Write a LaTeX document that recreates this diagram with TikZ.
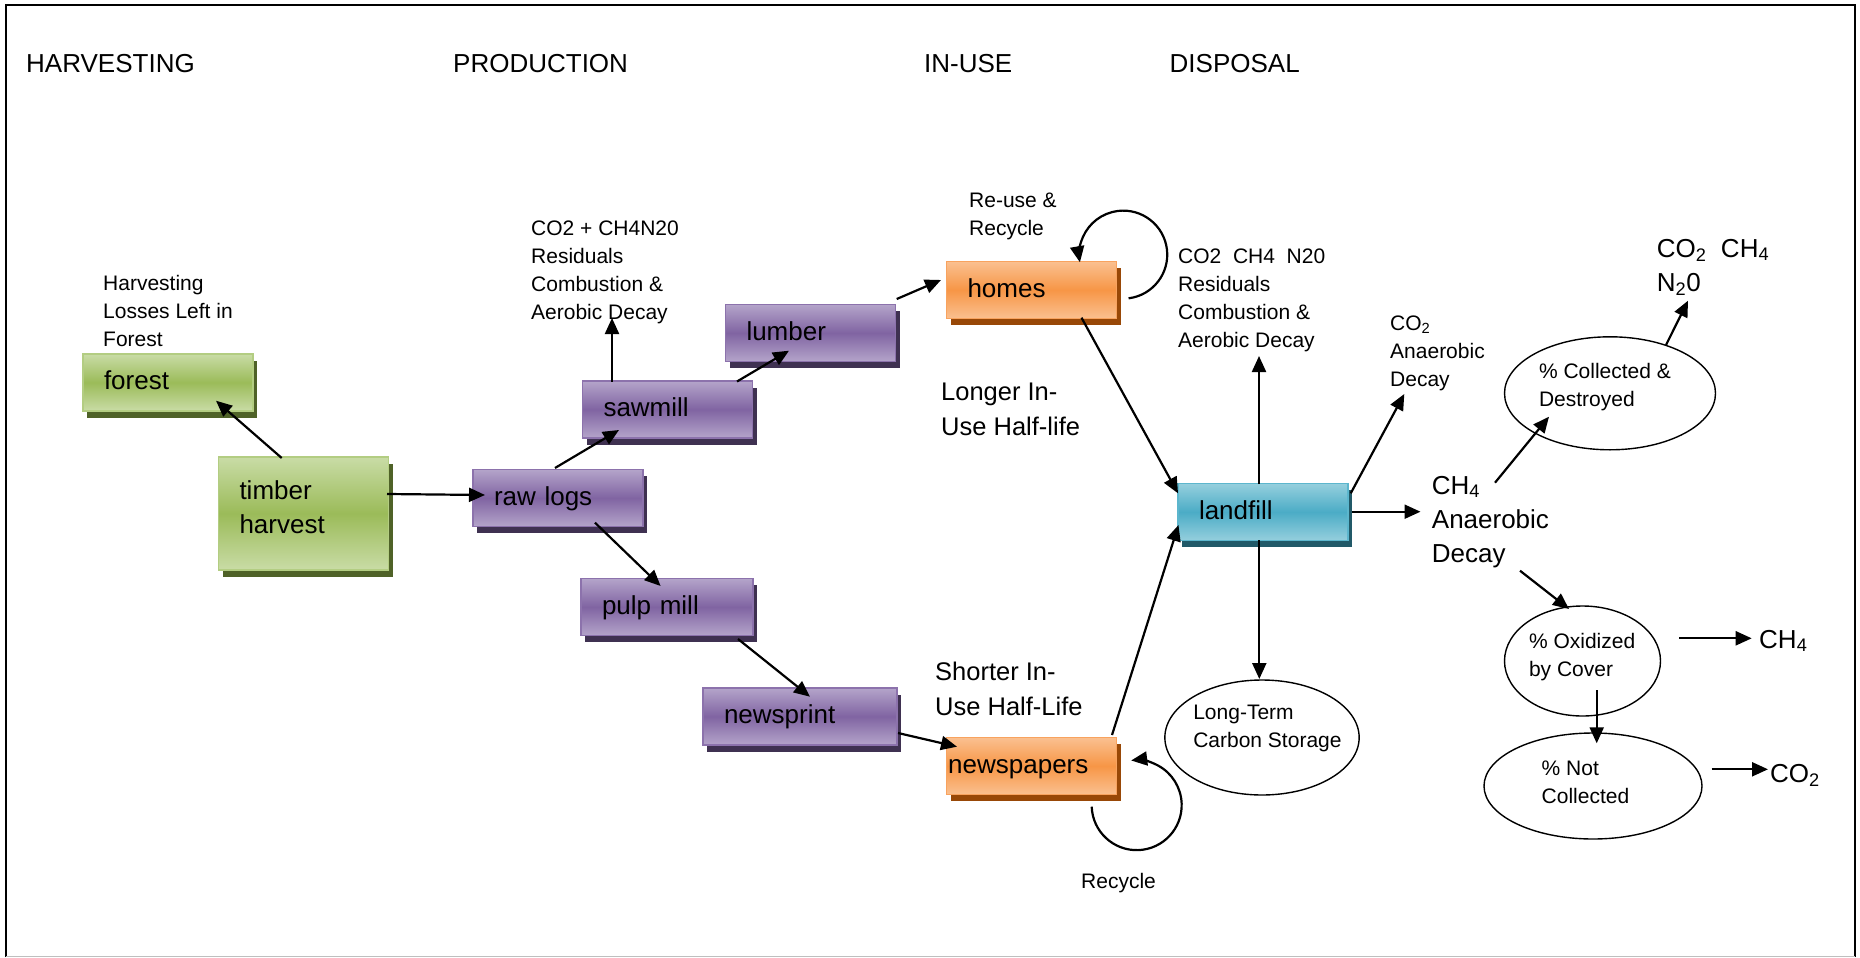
\documentclass[tikz,border=0pt]{standalone}
\usepackage{fontspec}
\setmainfont{Liberation Sans}
\usetikzlibrary{calc,shapes.geometric,shadows,arrows.meta}
\definecolor{gmid}{HTML}{9BBB59}
\definecolor{glight}{HTML}{C9DCA6}
\definecolor{gborder}{HTML}{B3CD82}
\definecolor{gdark}{HTML}{4F6228}
\definecolor{pmid}{HTML}{8064A2}
\definecolor{plight}{HTML}{B4A4CA}
\definecolor{pborder}{HTML}{8C72AC}
\definecolor{pdark}{HTML}{3F3151}
\definecolor{omid}{HTML}{F79646}
\definecolor{olight}{HTML}{FAC090}
\definecolor{oborder}{HTML}{F8A35F}
\definecolor{odark}{HTML}{984807}
\definecolor{bmid}{HTML}{4BACC6}
\definecolor{blight}{HTML}{95CFDD}
\definecolor{bborder}{HTML}{5CB6CD}
\definecolor{bdark}{HTML}{215968}
\newcommand\mysmall{\fontsize{21}{28}\selectfont}
\newcommand\mybig{\fontsize{26}{34}\selectfont}
\newcommand\mymid{\fontsize{25.5}{35}\selectfont}
\newcommand\txtlines[1]{\begin{tabular}[t]{@{}l@{}}#1\end{tabular}}
\tikzset{
  box/.style={rectangle, minimum width=170pt, minimum height=57pt, inner xsep=21pt, inner ysep=0pt,
    text width=128pt, align=left, text height=18pt, text depth=4pt, line width=1.5pt, font=\mybig},
  greenbox/.style={box, draw=gborder, top color=glight, bottom color=glight, middle color=gmid,
    drop shadow={shadow xshift=4pt, shadow yshift=-6.5pt, fill=gdark, opacity=1}},
  purplebox/.style={box, draw=pborder, top color=plight, bottom color=plight, middle color=pmid,
    drop shadow={shadow xshift=4pt, shadow yshift=-6.5pt, fill=pdark, opacity=1}},
  orangebox/.style={box, draw=oborder, top color=olight, bottom color=olight, middle color=omid,
    drop shadow={shadow xshift=4pt, shadow yshift=-6.5pt, fill=odark, opacity=1}},
  bluebox/.style={box, draw=bborder, top color=blight, bottom color=blight, middle color=bmid,
    drop shadow={shadow xshift=4pt, shadow yshift=-6.5pt, fill=bdark, opacity=1}},
  oval/.style={ellipse, draw, line width=1.4pt, inner sep=0pt, font=\mysmall, text depth=0pt},
  lbl/.style={anchor=base west, inner sep=0pt},
  flow/.style={line width=2.2pt, -{Triangle[length=16pt,width=14pt]}},
}
\begin{document}
\begin{tikzpicture}[x=1pt,y=-1pt]
\useasboundingbox (0,0) rectangle (1860,958);
% frame
\draw[line width=2.2pt] (6,957) -- (6,5) -- (1855,5) -- (1855,957);
\draw[line width=1pt, black!25] (6,956.5) -- (1855,956.5);

% headings
\node[lbl, font=\mybig] (hdrharv) at (26,73) {HARVESTING};
\node[lbl, font=\mybig] (hdrprod) at (453,73) {PRODUCTION};
\node[lbl, font=\mybig] (hdruse) at (924,73) {IN-USE};
\node[lbl, font=\mybig] (hdrdisp) at (1169.5,73) {DISPOSAL};

% boxes
\node[greenbox] (forest) at (168,382.5) {forest};
\node[greenbox, minimum height=113pt, text height=45pt, text depth=6pt] (timber) at (303.5,513.5)
  {\parbox[b]{128pt}{timber\\harvest}};
\node[purplebox] (rawlogs) at (558,498) {raw logs};
\node[purplebox] (sawmill) at (667.5,409.5) {sawmill};
\node[purplebox] (lumber) at (810.5,333) {lumber};
\node[purplebox, minimum width=172pt, text width=130pt] (pulpmill) at (667,607) {pulp mill};
\node[purplebox, minimum width=194pt, text width=152pt] (newsprint) at (800,716.5) {newsprint};
\node[orangebox] (homes) at (1031.5,290) {homes};
\node[orangebox, inner xsep=1.5pt, text width=167pt] (newspapers) at (1031.7,766) {newspapers};
\node[bluebox] (landfill) at (1263,512) {landfill};

% ellipses
\node[oval, minimum width=211pt, minimum height=113pt, text height=26.8pt] (collected) at (1610,393.3)
  {\parbox[b]{142pt}{\raggedright\mbox{\% Collected \&}\\Destroyed}};
\node[oval, minimum width=156pt, minimum height=110pt, text height=31.4pt] (oxidized) at (1582.5,661)
  {\parbox[b]{107pt}{\raggedright\mbox{\% Oxidized}\\\mbox{by Cover}}};
\node[oval, minimum width=218pt, minimum height=106pt, text height=34.6pt] (notcoll) at (1593,786)
  {\parbox[b]{102.6pt}{\raggedright\mbox{\% Not}\\Collected}};
\node[oval, minimum width=193pt, minimum height=115pt, text height=19.6pt] (longterm) at (1262,737.5)
  {\parbox[b]{137.4pt}{\raggedright\mbox{Long-Term}\\\mbox{Carbon Storage}}};

% labels
\node[lbl, font=\mysmall] (losses) at (103,290.7) {\txtlines{Harvesting\\Losses Left in\\Forest}};
\node[lbl, font=\mysmall] (sawemis) at (531,235) {\txtlines{CO2 + CH4N20\\Residuals\\Combustion \&\\Aerobic Decay}};
\node[lbl, font=\mysmall] (reuse) at (969,207.7) {\txtlines{Re-use \&\\Recycle}};
\node[lbl, font=\mysmall] (landemis) at (1178,263.3) {\txtlines{CO2~~CH4~~N20\\Residuals\\Combustion \&\\Aerobic Decay}};
\node[lbl, font=\mysmall] (co2an) at (1390,330) {\txtlines{CO\textsubscript{2}\\Anaerobic\\Decay}};
\node[lbl, font=\mysmall] (recycle) at (1081,888) {Recycle};
\node[lbl, font=\mymid] (longer) at (941,400) {\txtlines{Longer In-\\Use Half-life}};
\node[lbl, font=\mymid] (shorter) at (935,680) {\txtlines{Shorter In-\\Use Half-Life}};
\node[lbl, font=\mybig] (ch4an) at (1431.7,494) {\txtlines{CH\textsubscript{4}\\Anaerobic\\Decay}};
\node[lbl, font=\mybig] (co2top) at (1656.7,257) {\txtlines{CO\textsubscript{2}~~CH\textsubscript{4}\\N\textsubscript{2}0}};
\node[lbl, font=\mybig] (ch4r) at (1759,648) {CH\textsubscript{4}};
\node[lbl, font=\mybig] (co2r) at (1770,782.7) {CO\textsubscript{2}};

% connectors
\draw[flow] ($(timber.center)+(-21.8,-55.5)$) -- ($(forest.center)+(48,18.2)$);
\draw[flow] ($(timber.center)+(83.5,-19.5)$) -- ($(rawlogs.center)+(-73,-3)$);
\draw[flow] ($(rawlogs.center)+(-3,-30)$) -- ($(sawmill.center)+(-48.5,20.5)$);
\draw[flow] ($(sawmill.center)+(-55.5,-28)$) -- ($(sawemis.base west)+(81,83)$);
\draw[flow] ($(sawmill.center)+(69.5,-28)$) -- ($(lumber.center)+(-21.5,17.7)$);
\draw[flow] ($(lumber.center)+(86.2,-34)$) -- ($(homes.center)+(-90.5,-10)$);
\draw[flow] ($(rawlogs.center)+(37,24.7)$) -- ($(pulpmill.center)+(-6.4,-21)$);
\draw[flow] ($(pulpmill.center)+(71,32)$) -- ($(newsprint.center)+(10,-19.8)$);
\draw[flow] ($(newsprint.center)+(98,16.5)$) -- ($(newspapers.center)+(-74.7,-19.3)$);
\draw[flow] ($(homes.center)+(50,27.7)$) -- ($(landfill.center)+(-85,-18.7)$);
\draw[flow] ($(newspapers.center)+(80.3,-31)$) -- ($(landfill.center)+(-84.5,13)$);
\draw[flow] ($(landfill.center)+(-4,-28)$) -- ($(landemis.base west)+(81,92.7)$);
\draw[flow] ($(landfill.center)+(87.7,-18.7)$) -- ($(co2an.base west)+(14.3,64)$);
\draw[flow] ($(landfill.center)+(88.8,-0.3)$) -- ($(ch4an.base west)+(-11.2,17.7)$);
\draw[flow] ($(landfill.center)+(-3.7,28)$) -- ($(longterm.center)+(-2.7,-58.5)$);
\draw[flow] ($(ch4an.base west)+(63.3,-11.3)$) -- ($(collected.center)+(-61,23.4)$);
\draw[flow] ($(collected.center)+(56,-48.3)$) -- ($(co2top.base west)+(31.3,43.7)$);
\draw[flow] ($(ch4an.base west)+(88.3,76.7)$) -- ($(oxidized.center)+(-13.5,-52)$);
\draw[flow] ($(oxidized.center)+(96.5,-22.7)$) -- ($(ch4r.base west)+(-7.3,-9.7)$);
\draw[flow] ($(oxidized.center)+(14.2,29)$) -- ($(notcoll.center)+(3.7,-42.7)$);
\draw[flow] ($(notcoll.center)+(118.7,-16.7)$) -- ($(co2r.base west)+(-2,-13.4)$);
% recycle loops
\draw[flow] ($(homes.center)+(97.1,8.3)$) arc[start angle=-83, end angle=190, radius=44pt];
\draw[flow] ($(newspapers.center)+(60,40.7)$) arc[start angle=182, end angle=457, radius=45pt];
\end{tikzpicture}
\end{document}
